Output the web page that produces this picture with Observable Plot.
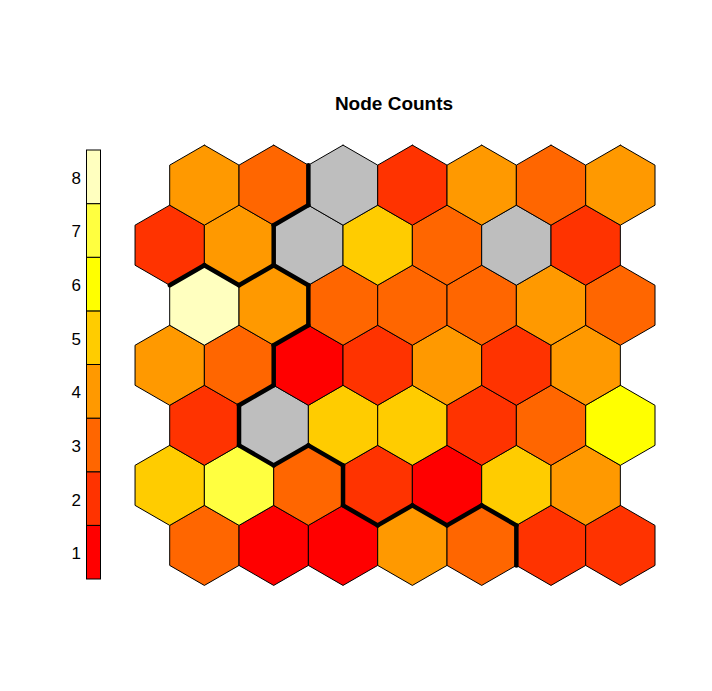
<!DOCTYPE html>
<html>
<head>
<meta charset="utf-8">
<script src="https://cdn.jsdelivr.net/npm/d3@7"></script>
<script src="https://cdn.jsdelivr.net/npm/@observablehq/plot@0.6"></script>
<style>
  html, body { margin: 0; padding: 0; background: #fff; }
  #wrap { position: relative; width: 712px; height: 691px; font-family: "Liberation Sans", Arial, sans-serif; }
  #wrap svg { position: absolute; left: 0; top: 0; overflow: visible; }
  #title { position: absolute; left: 394px; top: 93px; transform: translateX(-50%);
           font-weight: bold; font-size: 19px; white-space: nowrap; color: #000; }
</style>
</head>
<body>
<div id="wrap"><div id="title">Node Counts</div></div>
<script>
// Node counts per row (row 1 = bottom row, columns left to right); 0 = empty node (grey)
const countsRow1 = [3, 1, 1, 4, 3, 2, 2];
const countsRow2 = [5, 7, 3, 2, 1, 5, 4];
const countsRow3 = [2, 0, 5, 5, 2, 3, 6];
const countsRow4 = [4, 3, 1, 2, 4, 2, 4];
const countsRow5 = [8, 4, 3, 3, 3, 4, 3];
const countsRow6 = [2, 4, 0, 5, 3, 0, 2];
const countsRow7 = [4, 3, 0, 2, 4, 3, 4];

// colour classes (0 = empty)
const countLevels = [0, 1, 2, 3, 4, 5, 6, 7, 8];
const levelColors = ["#BEBEBE", "#FF0000", "#FF3300", "#FF6600", "#FF9900", "#FFCC00", "#FFFF00", "#FFFF40", "#FFFFBF"];

// legend tick labels
const legendValues = [1, 2, 3, 4, 5, 6, 7, 8];

// cluster boundary: pairs of neighbouring nodes [row, col] whose shared edge is drawn thick
const boundaryPairs = [
  [[7, 2], [7, 3]], [[7, 2], [6, 3]], [[6, 2], [6, 3]], [[6, 3], [5, 2]],
  [[6, 2], [5, 2]], [[6, 2], [5, 1]], [[6, 1], [5, 1]], [[5, 2], [5, 3]],
  [[5, 2], [4, 3]], [[4, 2], [4, 3]], [[4, 2], [3, 2]], [[3, 1], [3, 2]],
  [[3, 2], [2, 2]], [[3, 2], [2, 3]], [[3, 3], [2, 3]], [[2, 3], [2, 4]],
  [[2, 4], [1, 3]], [[2, 4], [1, 4]], [[2, 5], [1, 4]], [[2, 5], [1, 5]],
  [[2, 6], [1, 5]], [[1, 5], [1, 6]]
];

const rows = [countsRow1, countsRow2, countsRow3, countsRow4, countsRow5, countsRow6, countsRow7];
const SQ3 = Math.sqrt(3);
const R = 1 / SQ3; // hexagon circumradius in grid units

function center(row, col) {
  return { x: col + (row % 2 === 1 ? 0.5 : 0), y: row * SQ3 / 2 };
}

const nodes = [];
rows.forEach((vals, ri) => {
  vals.forEach((v, ci) => {
    const c = center(ri + 1, ci + 1);
    nodes.push({ id: `${ri + 1}-${ci + 1}`, cx: c.x, cy: c.y, count: v });
  });
});

const hexPts = [];
for (const n of nodes) {
  for (let k = 0; k <= 6; k++) {
    const a = (90 + 60 * k) * Math.PI / 180;
    hexPts.push({ id: n.id, count: n.count, x: n.cx + R * Math.cos(a), y: n.cy + R * Math.sin(a) });
  }
}

const edges = boundaryPairs.map(([a, b]) => {
  const c1 = center(a[0], a[1]), c2 = center(b[0], b[1]);
  const mx = (c1.x + c2.x) / 2, my = (c1.y + c2.y) / 2;
  const dx = c2.x - c1.x, dy = c2.y - c1.y;
  const len = Math.hypot(dx, dy);
  const px = -dy / len, py = dx / len;
  const h = R / 2;
  return { x1: mx - px * h, y1: my - py * h, x2: mx + px * h, y2: my + py * h };
});

const unit = 69.33;
const x0 = 169.2, y1px = 544.9;

const main = Plot.plot({
  width: 712, height: 691,
  margin: 0,
  x: { domain: [1, 8], range: [x0, x0 + 7 * unit], axis: null },
  y: { domain: [SQ3 / 2, 7 * SQ3 / 2], range: [y1px, y1px - 6 * unit * SQ3 / 2], axis: null },
  color: { type: "ordinal", domain: countLevels, range: levelColors },
  marks: [
    Plot.line(hexPts, { x: "x", y: "y", z: "id", fill: "count", stroke: "black", strokeWidth: 1, strokeLinejoin: "miter" }),
    Plot.link(edges, { x1: "x1", y1: "y1", x2: "x2", y2: "y2", stroke: "black", strokeWidth: 4.5, strokeLinecap: "round" })
  ]
});

const legendRects = legendValues.map(v => ({ v, lo: v - 0.5, hi: v + 0.5 }));
const legend = Plot.plot({
  width: 120, height: 691,
  margin: 0,
  x: { domain: [0, 1], range: [86.5, 100.5], axis: null },
  y: { domain: [0.5, 8.5], range: [579, 150], axis: null },
  color: { type: "ordinal", domain: countLevels, range: levelColors },
  marks: [
    Plot.rect(legendRects, { x1: 0, x2: 1, y1: "lo", y2: "hi", fill: "v", stroke: "black", strokeWidth: 1 }),
    Plot.text(legendValues, { x: 0, y: d => d, text: d => String(d), textAnchor: "end", dx: -6, dy: 1, fontSize: 17, fill: "black",
      fontFamily: "Liberation Sans, Arial, sans-serif" })
  ]
});

const wrap = document.getElementById("wrap");
wrap.appendChild(main);
wrap.appendChild(legend);
</script>
</body>
</html>
